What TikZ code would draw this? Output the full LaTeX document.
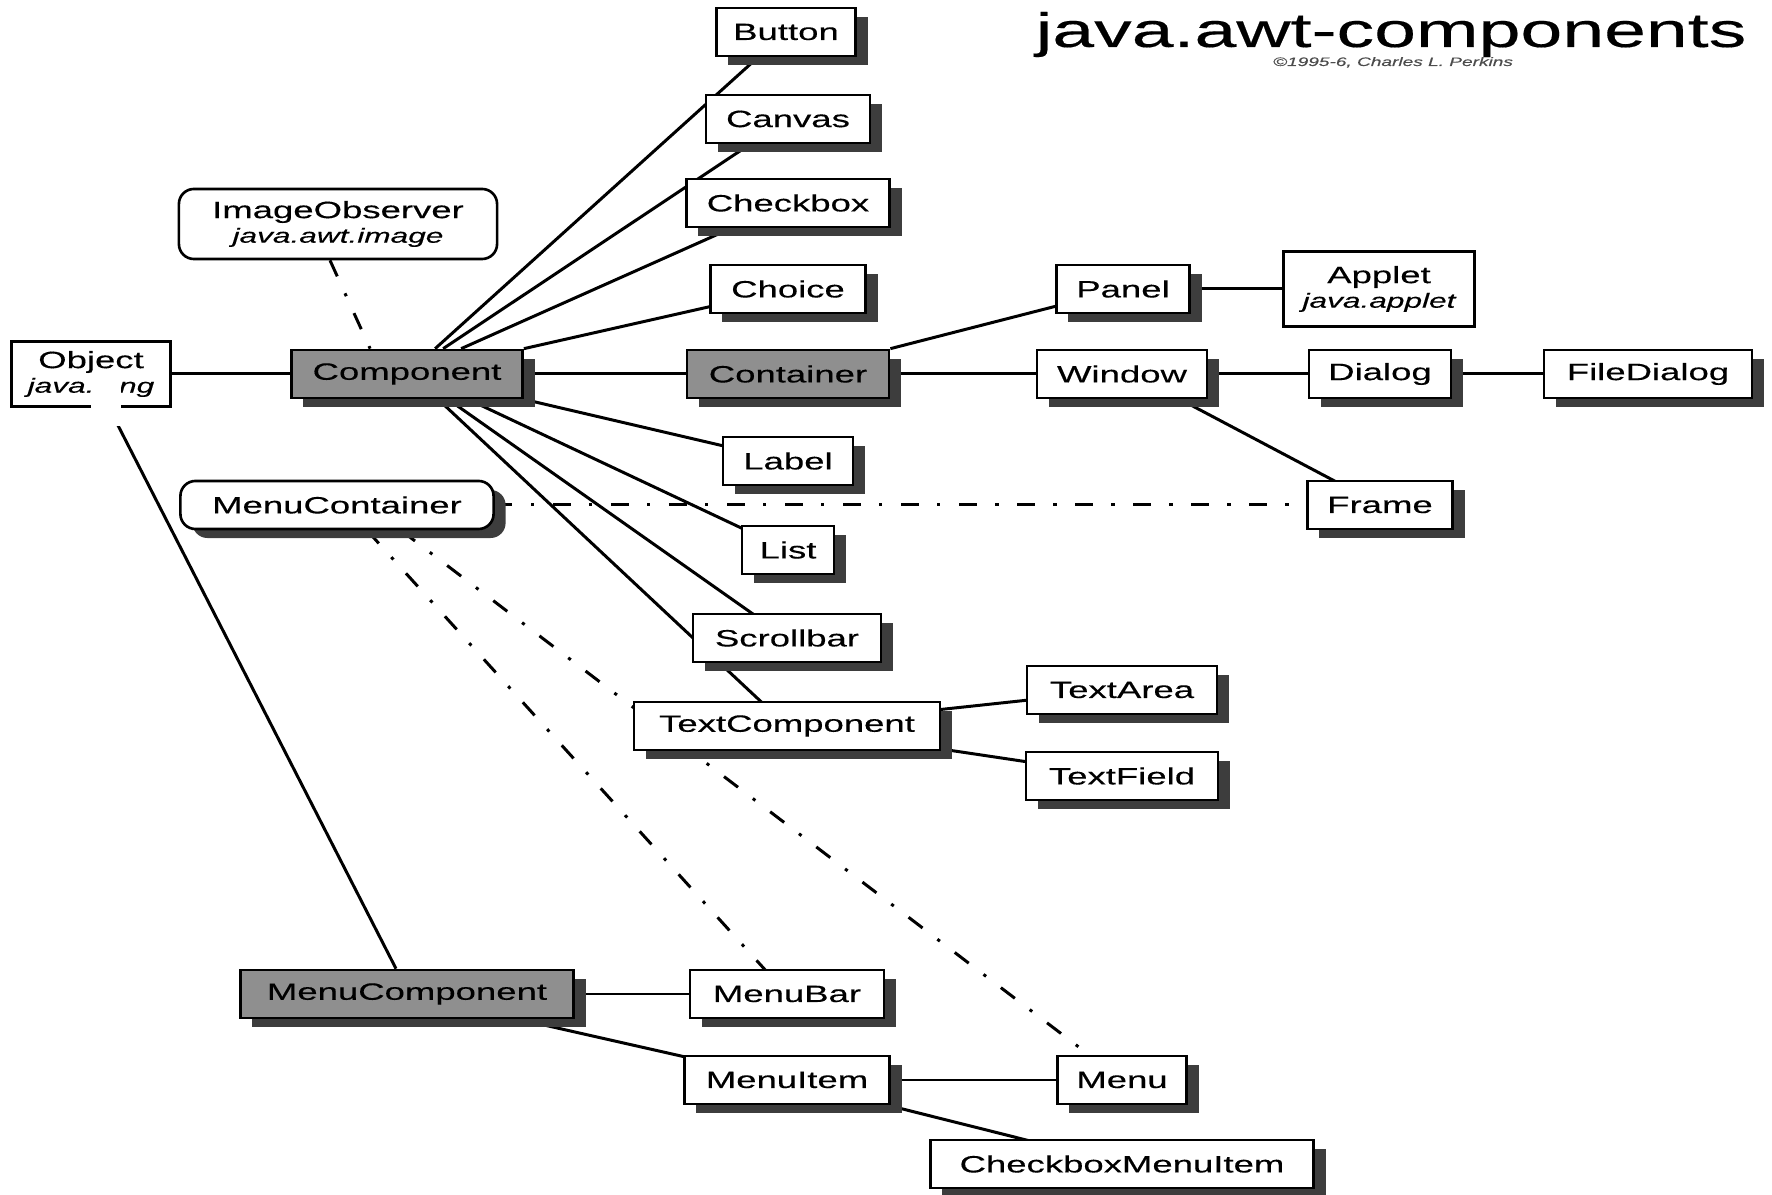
\documentclass[tikz,border=0pt]{standalone}
\usepackage{fontspec}
\setmainfont{Liberation Sans}[FakeStretch=1.55, FakeBold=0.3]
\usetikzlibrary{calc,shadows}
\pgfdeclarelayer{background}
\pgfsetlayers{background,main}
\definecolor{basefill}{gray}{0.56}
\definecolor{shadowgray}{gray}{0.24}
\newcommand{\labelfont}{\fontsize{6.7}{7}\selectfont}
\newcommand{\pkgfont}{\fontsize{5.8}{7}\selectfont\itshape}

\begin{document}
\begin{tikzpicture}%
	[x={(0.01cm,0cm)},
	y={(0cm,-0.01cm)},
	box/.style={draw, fill=white, line width=0.75pt, inner sep=0pt, minimum height=0.48cm, font=\labelfont, drop shadow={shadow xshift=0.12cm, shadow yshift=-0.09cm, fill=shadowgray, opacity=1}},
	basebox/.style={box, fill=basefill},
	ifacebox/.style={box, rounded corners=0.15cm},
	pkgbox/.style={draw, fill=white, line width=0.75pt, inner sep=0pt, align=center, font=\labelfont},
	solidlink/.style={line width=0.85pt},
	ifacelink/.style={line width=0.85pt, dash pattern=on 5pt off 5.3pt on 0.9pt off 5.3pt}]
%
\useasboundingbox (0,0) rectangle (1772,1195);
%
%% Title
%%
\node[anchor=base, font=\fontsize{13.8}{14}\selectfont] (title) at (1391,47) {java.awt-components};
\node[anchor=base, font=\fontsize{3.5}{4}\selectfont\itshape, text=black!70] (credit) at (1393,66) {\textcopyright1995-6, Charles L. Perkins};
%%
%% Classes
%%
\node[pkgbox, minimum width=1.59cm, minimum height=0.65cm] (Object) at (91,374) {Object\\{\pkgfont java.lang}};
\node[basebox, minimum width=2.31cm] (Component) at (407,374) {Component};
\node[basebox, minimum width=2.02cm] (Container) at (788,374) {Container};
\node[basebox, minimum width=3.33cm] (MenuComponent) at (407,994) {MenuComponent};
%
\node[box, minimum width=1.39cm] (Button) at (786,32) {Button};
\node[box, minimum width=1.64cm] (Canvas) at (788,119) {Canvas};
\node[box, minimum width=2.03cm] (Checkbox) at (788,203) {Checkbox};
\node[box, minimum width=1.55cm] (Choice) at (788,289) {Choice};
\node[box, minimum width=1.30cm] (Label) at (788,461) {Label};
\node[box, minimum width=0.92cm] (List) at (788,550) {List};
\node[box, minimum width=1.88cm] (Scrollbar) at (787,638) {Scrollbar};
\node[box, minimum width=3.06cm] (TextComponent) at (787,726) {TextComponent};
\node[box, minimum width=1.90cm] (TextArea) at (1122,690) {TextArea};
\node[box, minimum width=1.92cm] (TextField) at (1122,776) {TextField};
%
\node[box, minimum width=1.33cm] (Panel) at (1123,289) {Panel};
\node[pkgbox, minimum width=1.91cm, minimum height=0.75cm] (Applet) at (1379,289) {Applet\\{\pkgfont java.applet}};
\node[box, minimum width=1.70cm] (Window) at (1122,374) {Window};
\node[box, minimum width=1.42cm] (Dialog) at (1380,374) {Dialog};
\node[box, minimum width=2.08cm] (FileDialog) at (1648,374) {FileDialog};
\node[box, minimum width=1.45cm] (Frame) at (1380,505) {Frame};
%
\node[box, minimum width=1.94cm] (MenuBar) at (787,994) {MenuBar};
\node[box, minimum width=2.05cm] (MenuItem) at (787,1080) {MenuItem};
\node[box, minimum width=1.29cm] (Menu) at (1122,1080) {Menu};
\node[box, minimum width=3.83cm] (CheckboxMenuItem) at (1122,1164) {CheckboxMenuItem};
%%
%% Interfaces
%%
\node[pkgbox, rounded corners=0.15cm, minimum width=3.18cm, minimum height=0.70cm] (ImageObserver) at (338,224) {ImageObserver\\{\pkgfont java.awt.image}};
\node[ifacebox, minimum width=3.13cm] (MenuContainer) at (337,505) {MenuContainer};
%%
%% Links, drawn behind the boxes
%%
\begin{pgfonlayer}{background}
\draw[solidlink] (Object) -- (Component);
\draw[solidlink] ($(Object.south)+(18,0)$) -- ($(MenuComponent.north)+(-11,0)$);
\draw[solidlink] ($(Component.north west)+(145,0)$) -- (Button.center);
\draw[solidlink] ($(Component.north west)+(153,0)$) -- (Canvas.center);
\draw[solidlink] ($(Component.north west)+(171,0)$) -- (Checkbox.center);
\draw[solidlink] (Component.north east) -- (Choice.center);
\draw[solidlink] (Component) -- (Container);
\draw[solidlink] (Component.south east) -- (Label.center);
\draw[solidlink] ($(Component.south west)+(178,0)$) -- (List.center);
\draw[solidlink] ($(Component.south west)+(158,0)$) -- (Scrollbar.center);
\draw[solidlink] ($(Component.south west)+(148,0)$) -- (TextComponent.center);
\draw[solidlink] (TextComponent.center) -- (TextArea.center);
\draw[solidlink] (TextComponent.center) -- (TextField.center);
\draw[solidlink] (Container.north east) -- (Panel.center);
\draw[solidlink] (Container) -- (Window);
\draw[solidlink] (Panel) -- (Applet);
\draw[solidlink] (Window) -- (Dialog);
\draw[solidlink] (Dialog) -- (FileDialog);
\draw[solidlink] ($(Window.south)+(58,0)$) -- (Frame.center);
\draw[solidlink] (MenuComponent) -- (MenuBar);
\draw[solidlink] (MenuComponent.center) -- (MenuItem.center);
\draw[solidlink] (MenuItem) -- (Menu);
\draw[solidlink] (MenuItem.center) -- (CheckboxMenuItem.center);
%
\draw[ifacelink] ($(ImageObserver.south)+(-8,0)$) -- ($(Component.north west)+(80,0)$);
\draw[ifacelink] (MenuContainer) -- (Frame);
\draw[ifacelink] ($(MenuContainer.south)+(30,0)$) -- (MenuBar.center);
\draw[ifacelink] ($(MenuContainer.south)+(64,0)$) -- (Menu.center);
\end{pgfonlayer}
%%
%% Blank patch over java.lang
%%
\fill[white] (91,376) rectangle (121,426);
%%
\end{tikzpicture}
\end{document}
